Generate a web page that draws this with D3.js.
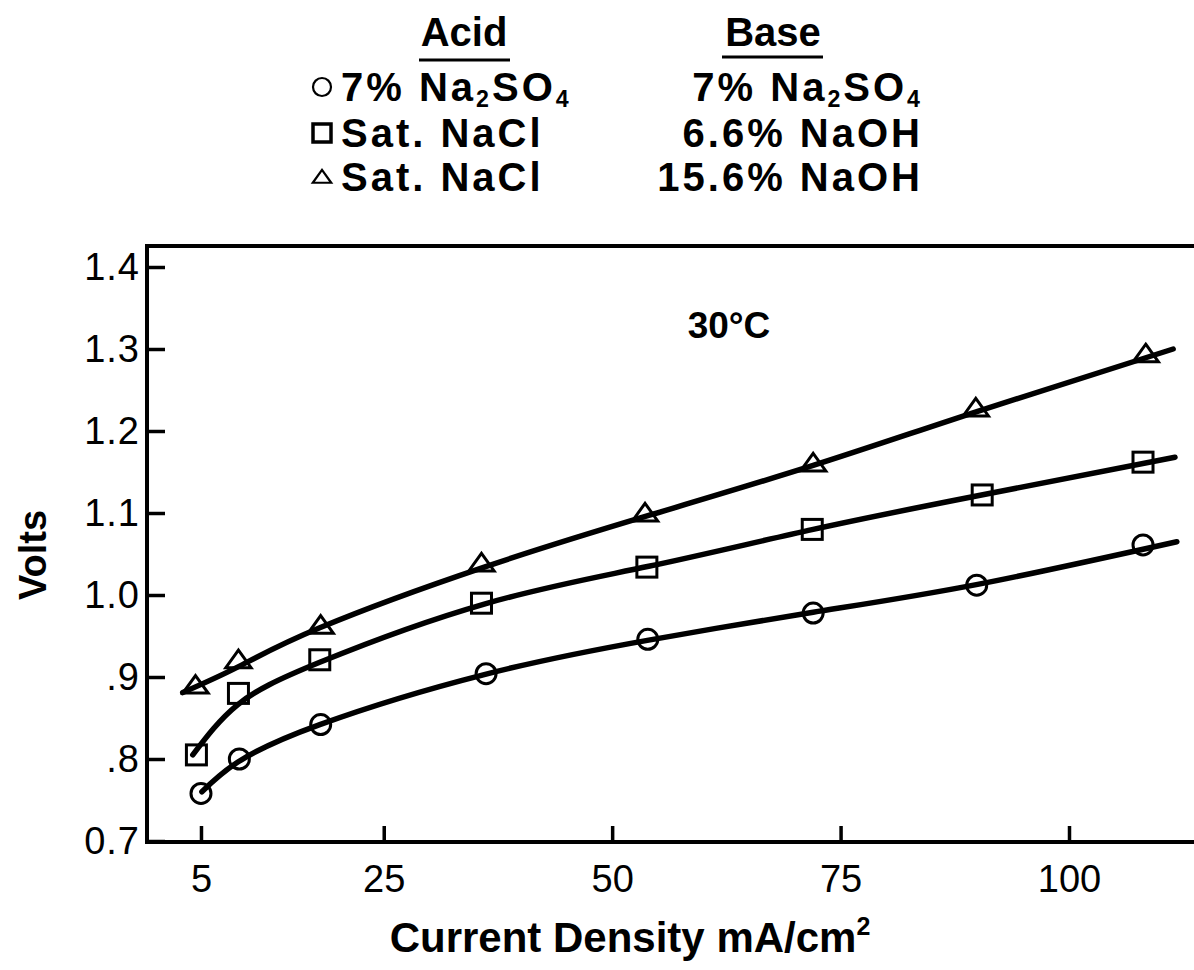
<!DOCTYPE html>
<html>
<head>
<meta charset="utf-8">
<script src="https://cdn.jsdelivr.net/npm/d3@7"></script>
<style>
  html, body { margin: 0; padding: 0; background: #fff; }
  svg { display: block; font-family: "Liberation Sans", Arial, Helvetica, sans-serif; }
</style>
</head>
<body>
<svg id="chart" width="1194" height="970"></svg>
<script>
// ---------- data ----------
const circleX   = [5, 9.2, 18.1, 36.2, 53.9, 72.0, 89.9, 108.1];
const circleY   = [0.758, 0.800, 0.842, 0.904, 0.946, 0.978, 1.012, 1.061];
const squareX   = [4.5, 9.1, 18.0, 35.7, 53.8, 71.9, 90.5, 108.1];
const squareY   = [0.805, 0.880, 0.921, 0.990, 1.034, 1.080, 1.122, 1.162];
const triangleX = [4.4, 9.1, 18.1, 35.7, 53.6, 72.0, 89.8, 108.4];
const triangleY = [0.890, 0.921, 0.963, 1.039, 1.100, 1.161, 1.228, 1.294];

// hand-fitted curves drawn through the points
const circleFit   = [[5.1, 0.760], [9, 0.796], [18, 0.842], [36, 0.903], [54, 0.945], [72, 0.979], [90, 1.013], [111.8, 1.065]];
const squareFit   = [[4.1, 0.805], [9, 0.866], [18, 0.918], [36, 0.989], [54, 1.035], [72, 1.080], [90, 1.121], [111.6, 1.168]];
const triangleFit = [[3.0, 0.881], [9, 0.912], [18, 0.960], [36, 1.034], [54, 1.097], [72, 1.158], [90, 1.224], [111.4, 1.300]];

const xTicks = [5, 25, 50, 75, 100];
const xTickLabels = ["5", "25", "50", "75", "100"];
const yTicks = [0.7, 0.8, 0.9, 1.0, 1.1, 1.2, 1.3, 1.4];
const yTickLabels = ["0.7", ".8", ".9", "1.0", "1.1", "1.2", "1.3", "1.4"];

const legendAcid = ["7% Na|2|SO|4", "Sat. NaCl", "Sat. NaCl"];
const legendBase = ["7% Na|2|SO|4", "6.6% NaOH", "15.6% NaOH"];
const legendSymbols = ["circle", "square", "triangle"];

// ---------- layout ----------
const plotLeft = 147, plotTop = 246, plotBottom = 842, plotRight = 1194;
const svg = d3.select("#chart");
const font = '"Liberation Sans", Arial, Helvetica, sans-serif';

const x = d3.scaleLinear().domain([0, 100]).range([155.3, 1069]);
const y = d3.scaleLinear().domain([0.7, 1.4]).range([841, 267]);

// ---------- frame ----------
const frame = svg.append("g").attr("stroke", "#000").attr("stroke-width", 4).attr("fill", "none")
  .attr("stroke-linecap", "square");
frame.append("line").attr("x1", plotLeft).attr("x2", plotLeft).attr("y1", plotTop).attr("y2", plotBottom);
frame.append("line").attr("x1", plotLeft).attr("x2", plotRight).attr("y1", plotBottom).attr("y2", plotBottom);
frame.append("line").attr("x1", plotLeft).attr("x2", plotRight).attr("y1", plotTop).attr("y2", plotTop);

// ---------- axes ----------
const yAxis = d3.axisLeft(y).tickValues(yTicks)
  .tickFormat((d, i) => yTickLabels[i]).tickSizeInner(-18).tickSizeOuter(0).tickPadding(7);
const gy = svg.append("g").attr("transform", `translate(${plotLeft},0)`).call(yAxis);
gy.select(".domain").remove();
gy.selectAll(".tick line").attr("stroke", "#000").attr("stroke-width", 3.5);
gy.selectAll(".tick text").attr("font-family", font).attr("font-size", 38).attr("fill", "#000")
  .attr("letter-spacing", 1);

const xAxis = d3.axisBottom(x).tickValues(xTicks)
  .tickFormat((d, i) => xTickLabels[i]).tickSizeInner(-16).tickSizeOuter(0).tickPadding(23);
const gx = svg.append("g").attr("transform", `translate(0,${plotBottom})`).call(xAxis);
gx.select(".domain").remove();
gx.selectAll(".tick line").attr("stroke", "#000").attr("stroke-width", 3.5);
gx.selectAll(".tick text").attr("font-family", font).attr("font-size", 38).attr("fill", "#000");

// ---------- axis titles ----------
const xt = svg.append("text").attr("x", 630).attr("y", 952).attr("text-anchor", "middle")
  .attr("font-family", font).attr("font-weight", "bold").attr("font-size", 42);
xt.append("tspan").text("Current Density mA/cm");
xt.append("tspan").attr("font-size", 25).attr("dy", -17).text("2");

svg.append("text").attr("transform", "translate(46,555) rotate(-90)").attr("text-anchor", "middle")
  .attr("font-family", font).attr("font-weight", "bold").attr("font-size", 38).text("Volts");

svg.append("text").attr("x", 729).attr("y", 338).attr("text-anchor", "middle")
  .attr("font-family", font).attr("font-weight", "bold").attr("font-size", 37).text("30°C");

// ---------- curves ----------
const line = d3.line().x(d => x(d[0])).y(d => y(d[1])).curve(d3.curveNatural);
[circleFit, squareFit, triangleFit].forEach(fit => {
  svg.append("path").datum(fit).attr("d", line)
    .attr("fill", "none").attr("stroke", "#000").attr("stroke-width", 5.5)
    .attr("stroke-linecap", "round").attr("stroke-linejoin", "round");
});

// ---------- markers ----------
function drawMarker(g, type, cx, cy, s, sw) {
  if (type === "circle") {
    g.append("circle").attr("cx", cx).attr("cy", cy).attr("r", s)
      .attr("fill", "none").attr("stroke", "#000").attr("stroke-width", sw);
  } else if (type === "square") {
    g.append("rect").attr("x", cx - s).attr("y", cy - s).attr("width", 2 * s).attr("height", 2 * s)
      .attr("fill", "none").attr("stroke", "#000").attr("stroke-width", sw);
  } else {
    const h = s * 1.6;
    g.append("path")
      .attr("d", `M${cx},${cy - h * 0.55}L${cx + s * 1.15},${cy + h * 0.45}L${cx - s * 1.15},${cy + h * 0.45}Z`)
      .attr("fill", "none").attr("stroke", "#000").attr("stroke-width", sw).attr("stroke-linejoin", "miter");
  }
}
const marks = svg.append("g");
circleX.forEach((v, i) => drawMarker(marks, "circle", x(v), y(circleY[i]), 10, 3));
squareX.forEach((v, i) => drawMarker(marks, "square", x(v), y(squareY[i]), 10, 3));
triangleX.forEach((v, i) => drawMarker(marks, "triangle", x(v), y(triangleY[i]), 11, 3));

// ---------- legend ----------
function richText(sel, str, base) {
  const parts = str.split("|");
  parts.forEach((p, i) => {
    const t = sel.append("tspan").text(p);
    if (i % 2 === 1) { t.attr("font-size", base * 0.58).attr("dy", 6); }
    else if (i > 0) { t.attr("dy", -6); }
  });
}
const lg = svg.append("g").attr("font-family", font).attr("font-weight", "bold").attr("fill", "#000");
lg.append("text").attr("x", 464).attr("y", 46).attr("text-anchor", "middle").attr("font-size", 40).text("Acid");
lg.append("text").attr("x", 773).attr("y", 46).attr("text-anchor", "middle").attr("font-size", 40).text("Base");
lg.append("line").attr("x1", 419).attr("x2", 510).attr("y1", 60).attr("y2", 60).attr("stroke", "#000").attr("stroke-width", 3);
lg.append("line").attr("x1", 722).attr("x2", 823).attr("y1", 57).attr("y2", 57).attr("stroke", "#000").attr("stroke-width", 3);

const rowY = [101, 147, 191];
legendSymbols.forEach((s, i) => {
  drawMarker(lg, s, 322, rowY[i] - 14, s === "triangle" ? 8 : 9, s === "square" ? 3.5 : 2.2);
  const ta = lg.append("text").attr("x", 341).attr("y", rowY[i]).attr("font-size", 40).attr("letter-spacing", 3);
  richText(ta, legendAcid[i], 40);
  const tb = lg.append("text").attr("x", 923).attr("y", rowY[i]).attr("text-anchor", "end").attr("font-size", 40).attr("letter-spacing", 3);
  richText(tb, legendBase[i], 40);
});
</script>
</body>
</html>
